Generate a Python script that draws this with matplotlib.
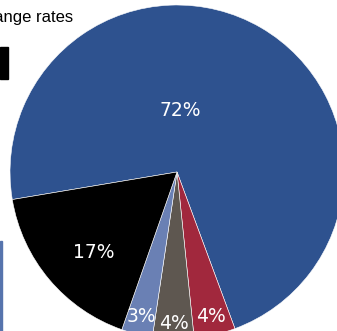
import matplotlib.pyplot as plt
from matplotlib.patches import Rectangle
import numpy as np

labels = ['Blue', 'Red', 'Brown', 'Light blue', 'Black']
shares = [72, 4, 4, 3, 17]
colors = ['#2e528f', '#a1283d', '#5e5750', '#6a80b4', '#000000']
pct_dist = [0.37, 0.89, 0.91, 0.89, 0.69]
label_angle = [87, None, None, None, 224]

fig = plt.figure(figsize=(3.37, 3.31), dpi=100)
# pie centre ~ (177,172) px, radius ~167 px, runs off the figure
W, H = 337, 331
cx, cy, r = 177, H - 172, 167
ax = fig.add_axes([(cx - r) / W, (cy - r) / H, 2 * r / W, 2 * r / H])

wedges, _ = ax.pie(shares, colors=colors, startangle=189.5, counterclock=False,
                   radius=1, wedgeprops=dict(linewidth=0.4, edgecolor='white'))
ax.set_xlim(-1, 1)
ax.set_ylim(-1, 1)
ax.set_aspect('equal')
ax.axis('off')

for i, w in enumerate(wedges):
    a = label_angle[i] if label_angle[i] is not None else (w.theta1 + w.theta2) / 2
    ang = np.deg2rad(a)
    ax.text(pct_dist[i] * np.cos(ang), pct_dist[i] * np.sin(ang), f'{shares[i]}%',
            color='white', fontsize=13.5, ha='center', va='center')

fig.text(73 / W, 1 - 22 / H, 'Exchange rates', ha='right', va='baseline',
         fontsize=12, family='Liberation Sans')
fig.patches.append(Rectangle((0, 1 - 79 / H), 8 / W, 32 / H, color='black',
                             transform=fig.transFigure))
fig.patches.append(Rectangle((0, 0), 2 / W, 90 / H, color='#5674ad',
                             transform=fig.transFigure))

fig.savefig('out.png', dpi=100)
